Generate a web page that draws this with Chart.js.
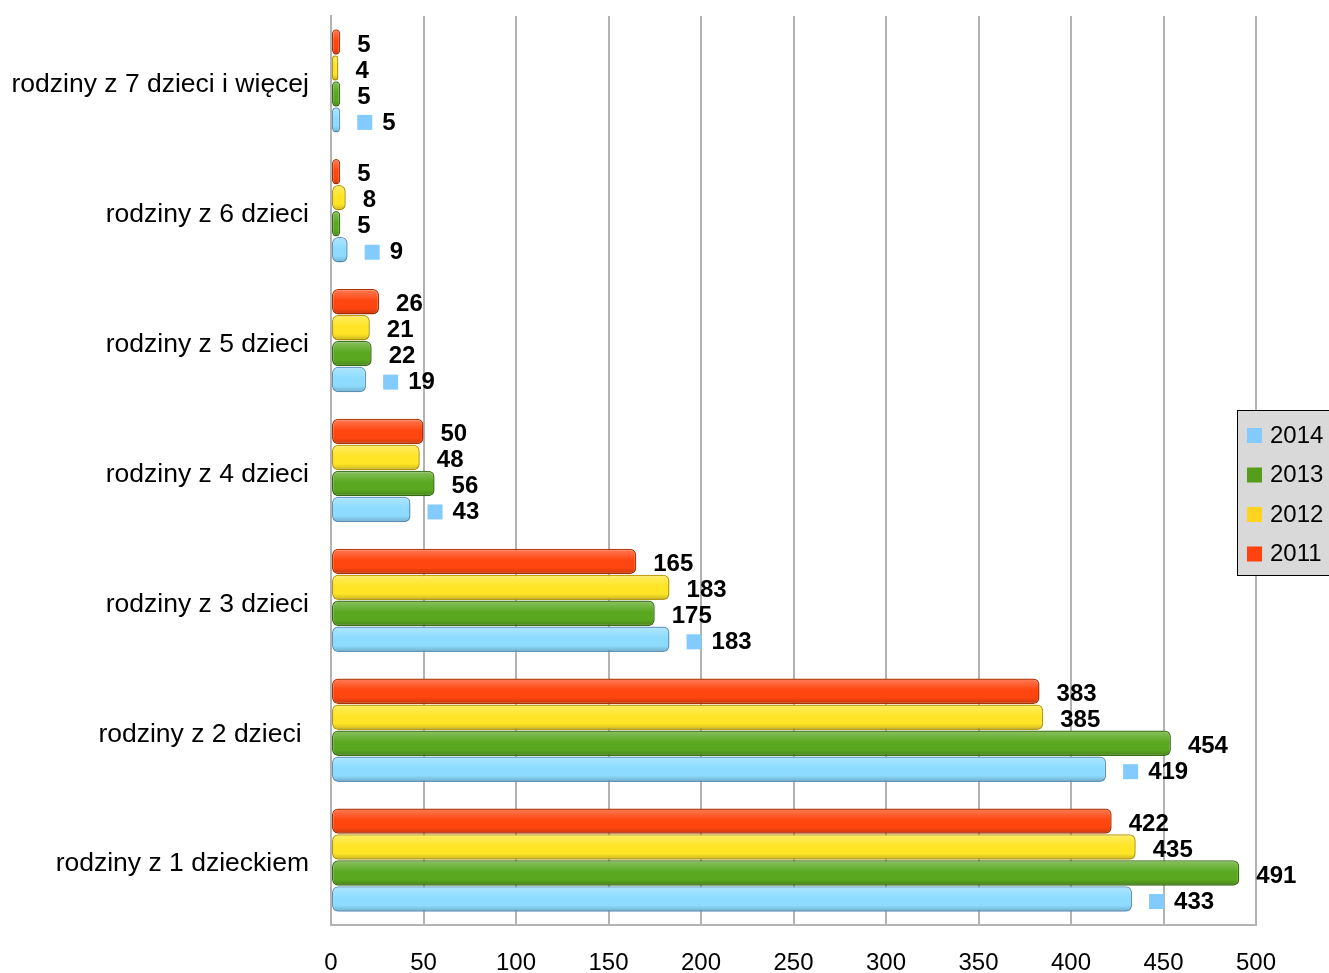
<!DOCTYPE html>
<html lang="pl">
<head>
<meta charset="utf-8">
<title>Rodziny wielodzietne 2011-2014</title>
<script src="https://cdn.jsdelivr.net/npm/chart.js@4.4.1/dist/chart.umd.min.js"></script>
<style>
    body { margin: 0; background: #ffffff; }
    #wrap { position: relative; width: 1329px; height: 973px; }
</style>
</head>
<body>
<div id="wrap"><canvas id="chart"></canvas></div>
<script>
// dane
const categories = [
    'rodziny z 7 dzieci i więcej',
    'rodziny z 6 dzieci',
    'rodziny z 5 dzieci',
    'rodziny z 4 dzieci',
    'rodziny z 3 dzieci',
    'rodziny z 2 dzieci ',
    'rodziny z 1 dzieckiem'
];
const years = ['2011', '2012', '2013', '2014'];
const values2011 = [5, 5, 26, 50, 165, 383, 422];
const values2012 = [4, 8, 21, 48, 183, 385, 435];
const values2013 = [5, 5, 22, 56, 175, 454, 491];
const values2014 = [5, 9, 19, 43, 183, 419, 433];
const xTicks = [0, 50, 100, 150, 200, 250, 300, 350, 400, 450, 500];

// kolory
const fills = ['#ff4610', '#ffe526', '#5aa820', '#8ddcff'];
const borders = ['#b03000', '#bb9a00', '#387010', '#5b96bf'];
const legendColors = ['#ff420e', '#ffd320', '#579d1c', '#83caff'];

const seriesValues = [values2011, values2012, values2013, values2014];
const FONT = '"Liberation Sans", Arial, sans-serif';

// połysk na słupkach
const shinePlugin = {
    id: 'shine',
    afterDatasetsDraw(chart) {
        const ctx = chart.ctx;
        chart.data.datasets.forEach((ds, i) => {
            chart.getDatasetMeta(i).data.forEach(bar => {
                const top = bar.y - bar.height / 2;
                const bottom = bar.y + bar.height / 2;
                const g = ctx.createLinearGradient(0, top, 0, bottom);
                g.addColorStop(0, 'rgba(255,255,255,0.30)');
                g.addColorStop(0.45, 'rgba(255,255,255,0.0)');
                g.addColorStop(0.75, 'rgba(0,0,0,0.0)');
                g.addColorStop(1, 'rgba(0,0,0,0.22)');
                ctx.save();
                ctx.fillStyle = g;
                ctx.beginPath();
                ctx.roundRect(bar.base + 1, top + 1, bar.x - bar.base - 2, bar.height - 2, 5);
                ctx.fill();
                ctx.restore();
            });
        });
    }
};

// etykiety wartości
const labelsPlugin = {
    id: 'valueLabels',
    afterDatasetsDraw(chart) {
        const ctx = chart.ctx;
        ctx.save();
        ctx.font = 'bold 24px ' + FONT;
        ctx.fillStyle = '#000';
        ctx.textBaseline = 'middle';
        ctx.textAlign = 'left';
        chart.data.datasets.forEach((ds, i) => {
            chart.getDatasetMeta(i).data.forEach((bar, j) => {
                const y = bar.y + 3;
                let x = bar.x + 17;
                if (i === 3) {
                    ctx.fillStyle = legendColors[3];
                    ctx.fillRect(x, y - 8, 15, 15);
                    ctx.fillStyle = '#000';
                    x += 25;
                }
                ctx.fillText(String(ds.data[j]), x, y);
            });
        });
        ctx.restore();
    }
};

// legenda
const legendPlugin = {
    id: 'boxLegend',
    afterDraw(chart) {
        const ctx = chart.ctx;
        ctx.save();
        ctx.fillStyle = '#d9d9d9';
        ctx.fillRect(1237, 410, 100, 166);
        ctx.strokeStyle = '#000';
        ctx.lineWidth = 1;
        ctx.strokeRect(1237.5, 410.5, 100, 165);
        ctx.font = '24px ' + FONT;
        ctx.textBaseline = 'middle';
        ctx.textAlign = 'left';
        [3, 2, 1, 0].forEach((idx, k) => {
            const y = 435 + k * 39.5;
            ctx.fillStyle = legendColors[idx];
            ctx.fillRect(1247, y - 7, 15, 15);
            ctx.fillStyle = '#000';
            ctx.fillText(years[idx], 1270, y + 1);
        });
        ctx.restore();
    }
};

new Chart(document.getElementById('chart'), {
    type: 'bar',
    data: {
        labels: categories,
        datasets: years.map((y, i) => ({
            label: y,
            data: seriesValues[i],
            backgroundColor: fills[i],
            borderColor: borders[i],
            borderWidth: 1.5,
            borderRadius: 6,
            borderSkipped: false,
            categoryPercentage: 0.8,
            barPercentage: 0.98
        }))
    },
    options: {
        indexAxis: 'y',
        responsive: true,
        maintainAspectRatio: false,
        animation: false,
        layout: { padding: { top: 16, right: 73, left: 0, bottom: 0 } },
        plugins: {
            legend: { display: false },
            tooltip: { enabled: false }
        },
        scales: {
            x: {
                min: 0,
                max: 500,
                afterBuildTicks: scale => {
                    scale.ticks = xTicks.map(v => ({ value: v }));
                },
                afterFit: scale => {
                    scale.height = 48;
                    scale.paddingLeft = 0;
                    scale.paddingRight = 0;
                },
                grid: { color: '#b3b3b3', lineWidth: 2, drawTicks: false },
                border: { color: '#b3b3b3', width: 2 },
                ticks: {
                    color: '#000',
                    padding: 24,
                    font: { family: FONT, size: 24 }
                }
            },
            y: {
                afterFit: scale => {
                    scale.width = 331;
                    scale.paddingTop = 0;
                    scale.paddingBottom = 0;
                },
                grid: { display: false, drawTicks: false },
                border: { color: '#b3b3b3', width: 2 },
                ticks: {
                    color: '#000',
                    padding: 22,
                    labelOffset: 4,
                    font: { family: FONT, size: 26.5 }
                }
            }
        }
    },
    plugins: [shinePlugin, labelsPlugin, legendPlugin]
});
</script>
</body>
</html>
